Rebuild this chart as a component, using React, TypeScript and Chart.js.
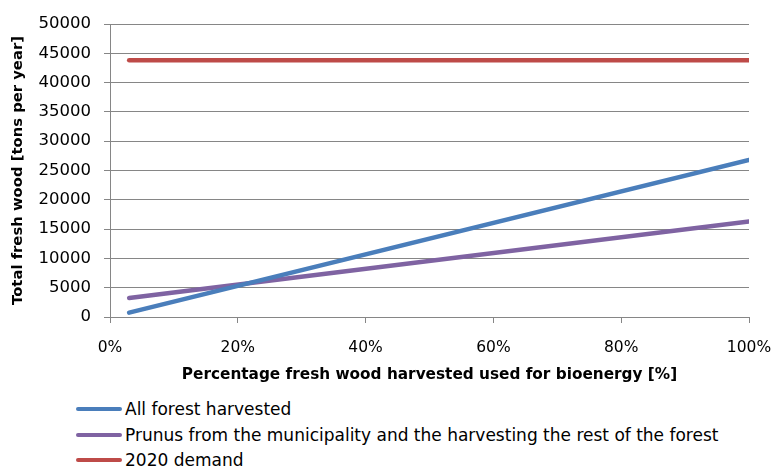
import React, { useEffect, useRef } from "react";
import { Chart, registerables } from "chart.js";

Chart.register(...registerables);

// Share of harvested fresh wood used for bioenergy (0..1)
const harvestShare = [0.03, 1.0];
// Total fresh wood [tons per year]
const allForestHarvested = [750, 26800];
const prunusAndRestOfForest = [3250, 16300];
const demand2020 = [43800, 43800];

const seriesNames = [
  "All forest harvested",
  "Prunus from the municipality and the harvesting the rest of the forest",
  "2020 demand",
];
const seriesColors = ["#4A7EBB", "#7F63A2", "#BE4B48"];

const xTitle = "Percentage fresh wood harvested used for bioenergy [%]";
const yTitle = "Total fresh wood [tons per year]";

const FONT = "'DejaVu Sans', sans-serif";

export default function App() {
  const canvasRef = useRef<HTMLCanvasElement | null>(null);

  useEffect(() => {
    const canvas = canvasRef.current;
    if (!canvas) return;
    const series = [allForestHarvested, prunusAndRestOfForest, demand2020];
    const chart = new Chart(canvas, {
      type: "line",
      data: {
        datasets: series.map((vals, i) => ({
          label: seriesNames[i],
          data: vals.map((v, j) => ({ x: harvestShare[j], y: v })),
          borderColor: seriesColors[i],
          backgroundColor: seriesColors[i],
          borderWidth: 4.5,
          borderCapStyle: "round" as const,
          pointRadius: 0,
          tension: 0,
        })),
      },
      options: {
        animation: false,
        responsive: false,
        maintainAspectRatio: false,
        layout: { padding: { left: 4, right: 25, top: 24, bottom: 0 } },
        plugins: { legend: { display: false }, tooltip: { enabled: false } },
        scales: {
          x: {
            type: "linear",
            min: 0,
            max: 1,
            ticks: {
              stepSize: 0.2,
              color: "#000",
              font: { family: FONT, size: 15.5 },
              padding: 16,
              callback: (v: any) => Math.round(Number(v) * 100) + "%",
            },
            grid: { drawOnChartArea: false, drawTicks: true, tickLength: 6, color: "#868686" },
            border: { color: "#868686", width: 1 },
            title: {
              display: true,
              text: xTitle,
              color: "#000",
              font: { family: FONT, size: 15.3, weight: "bold" },
              padding: { top: 4, bottom: 6 },
            },
            afterFit: (s: any) => {
              s.height = 73;
              s.paddingRight = 20;
              s.paddingLeft = 10;
            },
          },
          y: {
            min: 0,
            max: 50000,
            ticks: {
              stepSize: 5000,
              color: "#000",
              font: { family: FONT, size: 16.5 },
              padding: 13,
              callback: (v: any) => String(v),
            },
            grid: { color: "#868686", tickLength: 6, lineWidth: 1 },
            border: { color: "#868686", width: 1 },
            title: {
              display: true,
              text: yTitle,
              color: "#000",
              font: { family: FONT, size: 14.8, weight: "bold" },
              padding: { top: 5, bottom: 0 },
            },
            afterFit: (s: any) => {
              s.width = 106;
            },
          },
        },
      },
    });
    return () => chart.destroy();
  }, []);

  return (
    <div style={{ position: "fixed", left: 0, top: 0, width: 774, height: 466, overflow: "hidden", background: "#fff" }}>
      <canvas ref={canvasRef} width={774} height={390} style={{ position: "absolute", left: 0, top: 0, width: 774, height: 390 }} />
      {seriesNames.map((name, i) => (
        <div
          key={name}
          style={{
            position: "absolute",
            left: 76,
            top: 398 + i * 25.5,
            height: 22,
            display: "flex",
            alignItems: "center",
            fontFamily: FONT,
            fontSize: 17,
            color: "#000",
            whiteSpace: "nowrap",
          }}
        >
          <span style={{ display: "inline-block", width: 46, height: 4, borderRadius: 2, background: seriesColors[i], marginRight: 3 }} />
          <span>{name}</span>
        </div>
      ))}
    </div>
  );
}
